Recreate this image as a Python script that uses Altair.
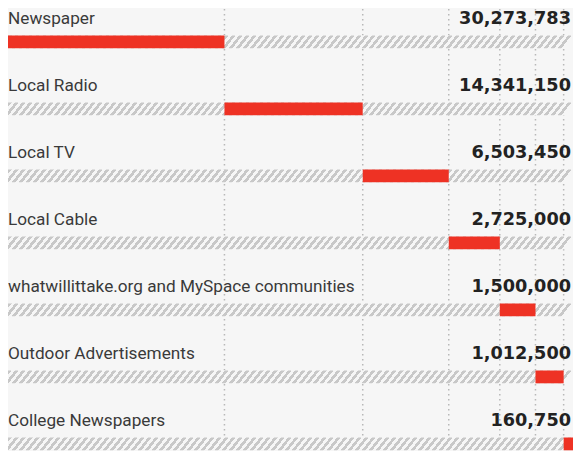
import altair as alt
import pandas as pd

categories = [
    "Newspaper",
    "Local Radio",
    "Local TV",
    "Local Cable",
    "whatwillittake.org and MySpace communities",
    "Outdoor Advertisements",
    "College Newspapers",
]
values = [30273783, 14341150, 6503450, 2725000, 1500000, 1012500, 160750]

W, H = 565, 441
ROW = 67.0
EXP = 0.6
BG = "#f6f6f6"
BAND_TOP, BAND_BOT, LAB = 26.5, 39.3, 14.7

df = pd.DataFrame({"idx": list(range(len(categories))), "category": categories, "value": values})

# diagonal hatch as a hard-stop linear gradient (bounding-box units)
slant = 0.8
r = slant * (BAND_BOT - BAND_TOP) / W
period = 7.0
dt = period / (W * (1 + r * r))
stops = []
k = 0
while k * dt < 1.0:
    a = k * dt
    b = min(a + dt * 0.5, 1.0)
    c = min(a + dt, 1.0)
    stops += [
        {"offset": a, "color": "#c8c8c8"},
        {"offset": b, "color": "#c8c8c8"},
        {"offset": b, "color": BG},
        {"offset": c, "color": BG},
    ]
    k += 1
hatch = {"gradient": "linear", "x1": 0, "y1": 0, "x2": 1, "y2": r, "stops": stops}

base = (
    alt.Chart(df)
    .transform_calculate(w=f"pow(datum.value / 1e6, {EXP})")
    .transform_window(cum="sum(w)", sort=[alt.SortField("idx")], frame=[None, 0])
    .transform_joinaggregate(total="sum(w)")
    .transform_calculate(
        start="datum.cum - datum.w",
        zero="0",
        ylab=f"datum.idx + {LAB / ROW}",
        ytop=f"datum.idx + {BAND_TOP / ROW}",
        ybot=f"datum.idx + {BAND_BOT / ROW}",
    )
)

xs = alt.Scale(nice=False, zero=True, padding=0)
ys = alt.Scale(domain=[0, H / ROW], reverse=True, nice=False, zero=False)

grid = base.transform_filter("datum.idx < 6").mark_rule(
    color="#b8b8b8", strokeWidth=1.5, strokeDash=[1.5, 3.5]
).encode(
    x=alt.X("cum:Q", scale=xs, axis=None),
    y=alt.value(0),
    y2=alt.value(H),
)

band = base.mark_rect(fill=hatch).encode(
    x=alt.X("zero:Q", scale=xs, axis=None),
    x2="total:Q",
    y=alt.Y("ytop:Q", scale=ys, axis=None),
    y2="ybot:Q",
)

bars = base.mark_rect(color="#ee3224").encode(
    x=alt.X("start:Q", scale=xs, axis=None),
    x2="cum:Q",
    y=alt.Y("ytop:Q", scale=ys, axis=None),
    y2="ybot:Q",
)

labels = base.mark_text(
    align="left", baseline="alphabetic", font="Roboto", fontSize=17.2, color="#3a3a3a"
).encode(
    x=alt.value(0),
    y=alt.Y("ylab:Q", scale=ys, axis=None),
    text="category:N",
)

nums = base.mark_text(
    align="right", baseline="alphabetic", font="DejaVu Sans", fontWeight="bold",
    fontSize=17.7, color="#222222"
).encode(
    x=alt.value(W - 2),
    y=alt.Y("ylab:Q", scale=ys, axis=None),
    text=alt.Text("value:Q", format=","),
)

chart = (
    alt.layer(grid, band, bars, labels, nums)
    .properties(width=W, height=H, padding=0, background=BG)
    .configure_view(stroke=None)
)

chart.save("out.html", embed_options={"renderer": "svg", "actions": False})
